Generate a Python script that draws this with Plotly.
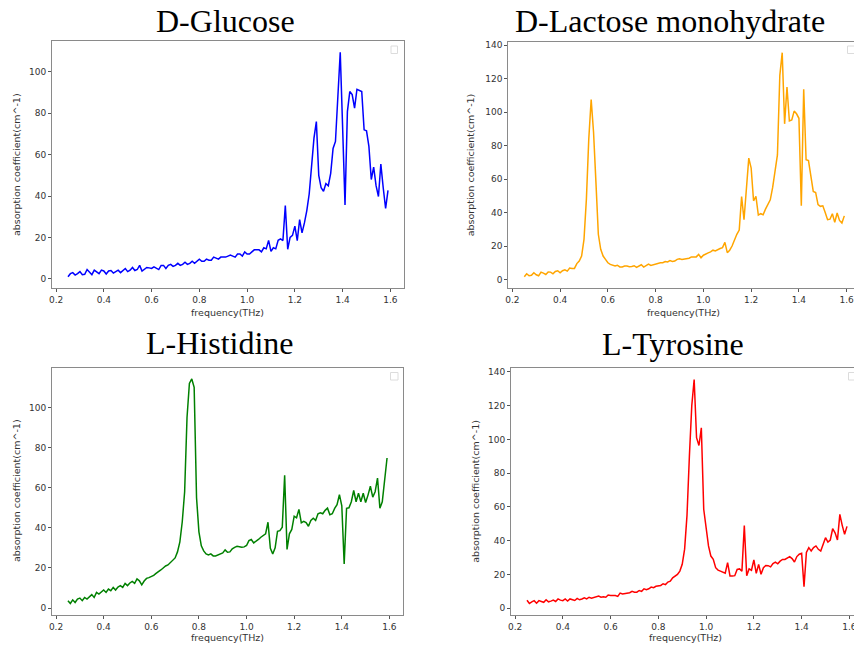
import plotly.graph_objects as go

W, H = 854, 645

# frequency grid (THz)
freq = [round(0.25 + 0.01 * i, 2) for i in range(135)]

glucose = [
    1.0, 2.5, 3.0, 1.8, 2.5, 3.5, 2.0, 2.2, 4.5, 3.0,
    2.0, 4.2, 3.5, 2.5, 4.2, 3.8, 2.3, 3.8, 4.0, 2.8,
    3.5, 4.2, 3.0, 4.0, 5.0, 3.5, 4.2, 5.5, 4.0, 4.5,
    6.5, 3.8, 4.5, 5.5, 5.3, 5.0, 5.8, 5.0, 4.5, 6.5,
    6.5, 5.0, 6.5, 7.0, 6.0, 6.5, 7.5, 6.5, 7.0, 8.0,
    7.0, 7.5, 8.5, 7.5, 8.5, 9.5, 8.5, 8.5, 9.5, 9.0,
    9.0, 10.5, 10.0, 9.5, 10.5, 10.5, 10.5, 11.0, 11.5, 11.0,
    10.5, 12.0, 12.0, 11.0, 13.0, 12.0, 12.0, 13.0, 14.0, 14.0,
    14.0, 13.0, 15.0, 14.5, 18.6, 13.3, 15.0, 14.5, 18.6, 19.3,
    18.5, 35.4, 14.3, 20.0, 21.0, 25.5, 18.5, 28.6, 22.2, 27.0,
    33.0, 41.0, 55.0, 68.0, 76.0, 50.0, 44.0, 42.3, 46.0, 45.0,
    51.0, 63.0, 66.4, 88.0, 109.5, 73.0, 35.7, 80.8, 90.5, 89.0,
    82.5, 91.6, 91.2, 90.5, 72.0, 71.5, 64.0, 48.0, 54.0, 45.0,
    39.8, 55.5, 44.0, 34.0, 42.7,
]

lactose = [
    1.6, 3.4, 2.2, 2.5, 4.0, 2.8, 2.2, 4.4, 3.8, 3.0,
    4.5, 4.4, 3.4, 4.8, 5.2, 4.0, 5.2, 5.8, 5.0, 6.8,
    6.6, 6.6, 9.5, 11.0, 14.0, 24.0, 48.0, 84.0, 107.5, 88.0,
    58.0, 27.0, 18.0, 14.0, 12.0, 10.0, 9.0, 8.5, 8.0, 8.5,
    7.5, 7.5, 8.0, 8.0, 7.6, 7.8, 8.2, 7.2, 8.0, 8.8,
    7.4, 8.4, 9.2, 8.4, 8.8, 9.6, 9.6, 10.0, 10.0, 10.7,
    10.5, 11.3, 10.8, 11.0, 12.0, 12.3, 12.0, 12.3, 12.5, 12.7,
    13.5, 13.5, 13.5, 15.0, 13.0, 14.5, 15.0, 15.9, 16.5, 17.5,
    17.0, 18.0, 18.5, 19.0, 22.2, 16.0, 17.5, 20.0, 24.0, 27.0,
    29.5, 49.6, 35.7, 55.0, 72.5, 66.5, 47.0, 49.6, 38.5, 39.3,
    38.7, 42.0, 45.0, 47.6, 55.0, 63.5, 74.4, 122.0, 135.5, 93.0,
    115.0, 94.7, 95.3, 100.6, 99.0, 96.3, 44.0, 113.6, 71.5, 71.0,
    62.0, 52.6, 52.0, 44.7, 43.7, 44.0, 40.0, 35.7, 36.0, 39.3,
    34.1, 39.7, 35.3, 33.7, 38.0,
]

histidine = [
    3.7, 2.3, 4.1, 2.8, 4.5, 5.0, 3.7, 5.3, 4.5, 5.5,
    6.7, 5.3, 7.8, 7.0, 8.0, 9.0, 7.8, 9.5, 8.7, 10.3,
    9.0, 10.5, 11.2, 10.3, 12.3, 11.2, 12.5, 13.3, 12.3, 14.5,
    13.6, 11.6, 13.5, 14.8, 15.2, 15.6, 16.3, 17.3, 18.0, 19.0,
    20.0, 21.0, 21.5, 22.8, 24.0, 25.0, 28.0, 33.0, 43.0, 58.0,
    95.0, 112.0, 114.2, 110.0, 55.0, 38.0, 31.0, 28.5, 27.0, 26.5,
    27.0, 26.0, 26.0, 26.5, 27.0, 27.5, 29.0, 27.8, 28.0, 29.5,
    30.3, 30.8, 30.6, 30.3, 30.5, 31.2, 33.6, 34.2, 32.5, 33.2,
    34.2, 35.3, 36.0, 37.0, 42.8, 29.8, 27.0, 30.0, 38.3, 38.6,
    40.3, 66.2, 29.2, 37.0, 39.2, 45.8, 45.0, 49.2, 42.5, 43.2,
    42.6, 40.8, 43.7, 44.8, 43.7, 47.0, 47.5, 47.0, 48.7, 49.8,
    46.5, 47.0, 49.7, 51.5, 56.5, 51.0, 22.0, 49.7, 50.0, 53.0,
    58.6, 53.0, 57.2, 53.0, 57.2, 52.6, 56.3, 60.7, 55.3, 58.0,
    64.8, 49.8, 53.0, 64.0, 74.8,
]

tyrosine = [
    4.7, 2.8, 3.8, 4.5, 3.0, 4.5, 4.0, 3.5, 5.0, 3.8,
    4.2, 4.8, 4.0, 5.5, 4.8, 4.5, 5.5, 4.3, 5.5, 5.0,
    4.6, 5.8, 5.0, 5.5, 6.2, 5.5, 6.5, 6.0, 6.3, 7.0,
    7.2, 6.5, 6.8, 6.5, 7.8, 7.6, 7.7, 7.5, 7.0, 9.0,
    8.5, 8.8, 9.0, 9.2, 10.0, 9.5, 9.5, 10.5, 10.0, 11.5,
    11.0, 11.5, 12.5, 12.2, 13.0, 13.2, 13.5, 14.5, 14.0, 15.5,
    16.0, 18.0, 19.0, 20.0, 22.0, 26.0, 35.0, 55.0, 90.0, 120.0,
    135.5, 101.0, 96.4, 106.9, 58.6, 46.7, 36.9, 30.9, 29.0, 24.0,
    22.6, 22.0, 21.2, 20.7, 27.0, 19.1, 19.1, 19.3, 23.0, 23.3,
    22.0, 49.0, 19.3, 23.3, 22.5, 28.6, 20.7, 26.0, 20.1, 24.0,
    25.3, 25.2, 24.5, 26.5, 27.3, 26.3, 27.9, 28.9, 28.9, 29.9,
    30.6, 29.4, 27.4, 30.6, 32.0, 32.5, 12.8, 33.0, 35.9, 33.9,
    35.9, 36.9, 34.9, 33.9, 37.9, 41.8, 39.2, 40.4, 47.1, 44.7,
    40.4, 55.6, 49.1, 43.8, 48.5,
]

titles = ["D-Glucose", "D-Lactose monohydrate", "L-Histidine", "L-Tyrosine"]
series = [glucose, lactose, histidine, tyrosine]
colors = ["blue", "orange", "green", "red"]
x_label = "frequency(THz)"
y_label = "absorption coefficient(cm^-1)"
x_ticks = [0.2, 0.4, 0.6, 0.8, 1.0, 1.2, 1.4, 1.6]

# panel frames in pixels: left, right, top, bottom (right=None -> cut at page edge)
frames = [
    (52, 404, 41, 288),
    (508.3, None, 41.5, 288),
    (52, 403, 367.7, 614.7),
    (511, None, 368.3, 614.7),
]
title_pos = [(225, 21), (670, 21), (220, 343), (673, 344)]
ytitle_pos = [(16, 165), (470.3, 165), (16, 491), (474.7, 491)]
xtitle_pos = [(227.5, 312), (683, 312), (227, 637), (685.8, 637)]
legend_box = [(391, 397.5, 46, 53.5), (847.5, 856, 46, 53.5),
              (390.5, 398, 372.5, 380), (848.5, 857, 372.5, 380)]

def px(x):
    return x / W

def py(y):
    return 1 - y / H

fig = go.Figure()
layout = dict(
    width=W, height=H,
    margin=dict(l=0, r=0, t=0, b=0),
    paper_bgcolor="white", plot_bgcolor="white",
    showlegend=False,
    annotations=[], shapes=[],
)

xmin, xmax = min(freq), max(freq)
xpad = 0.05 * (xmax - xmin)
full_lo, full_hi = xmin - xpad, xmax + xpad
scale = (frames[0][1] - frames[0][0]) / (full_hi - full_lo)  # px per THz

tickfont = dict(family="DejaVu Sans", size=9, color="#333333")
labelfont = dict(family="DejaVu Sans", size=9.5, color="#333333")

for i, (vals, col, fr) in enumerate(zip(series, colors, frames)):
    n = "" if i == 0 else str(i + 1)
    left, right, top, bottom = fr
    if right is None:
        dom_x = [px(left), 1.0]
        xr = [full_lo, full_lo + (W - left) / scale]
        ymirror = False
    else:
        dom_x = [px(left), px(right)]
        xr = [full_lo, full_hi]
        ymirror = True
    ylo, yhi = min(vals), max(vals)
    ypad = 0.05 * (yhi - ylo)
    fig.add_trace(go.Scatter(
        x=freq, y=vals, mode="lines",
        line=dict(color=col, width=1.5),
        xaxis="x" + n, yaxis="y" + n, hoverinfo="skip",
    ))
    layout["xaxis" + n] = dict(
        domain=dom_x, anchor="y" + n, range=xr,
        showline=True, linecolor="#8a8a8a", linewidth=1, mirror=True,
        ticks="outside", ticklen=3, tickcolor="#555555", tickwidth=1,
        tickvals=x_ticks, ticktext=["%.1f" % t for t in x_ticks],
        ticklabeloverflow="allow",
        tickfont=tickfont, showgrid=False, zeroline=False, automargin=False,
    )
    layout["yaxis" + n] = dict(
        domain=[py(bottom), py(top)], anchor="x" + n,
        range=[ylo - ypad, yhi + ypad],
        showline=True, linecolor="#8a8a8a", linewidth=1, mirror=ymirror,
        ticks="outside", ticklen=3, tickcolor="#555555", tickwidth=1,
        tick0=0, dtick=20, tickfont=tickfont,
        showgrid=False, zeroline=False, automargin=False,
    )
    tx, ty = title_pos[i]
    layout["annotations"].append(dict(
        text=titles[i], x=px(tx), y=py(ty), xref="paper", yref="paper",
        xanchor="center", yanchor="middle", showarrow=False,
        font=dict(family="Liberation Serif", size=32, color="black"),
    ))
    ax, ay = ytitle_pos[i]
    layout["annotations"].append(dict(
        text=y_label, x=px(ax), y=py(ay), xref="paper", yref="paper",
        xanchor="center", yanchor="middle", showarrow=False, textangle=-90,
        font=labelfont,
    ))
    bx, by = xtitle_pos[i]
    layout["annotations"].append(dict(
        text=x_label, x=px(bx), y=py(by), xref="paper", yref="paper",
        xanchor="center", yanchor="middle", showarrow=False,
        font=labelfont,
    ))
    x0, x1, y0, y1 = legend_box[i]
    layout["shapes"].append(dict(
        type="rect", xref="paper", yref="paper",
        x0=px(x0), x1=px(x1), y0=py(y1), y1=py(y0),
        line=dict(color="#dcdcdc", width=1), fillcolor="white",
    ))

fig.update_layout(**layout)
fig.write_html("out.html")
